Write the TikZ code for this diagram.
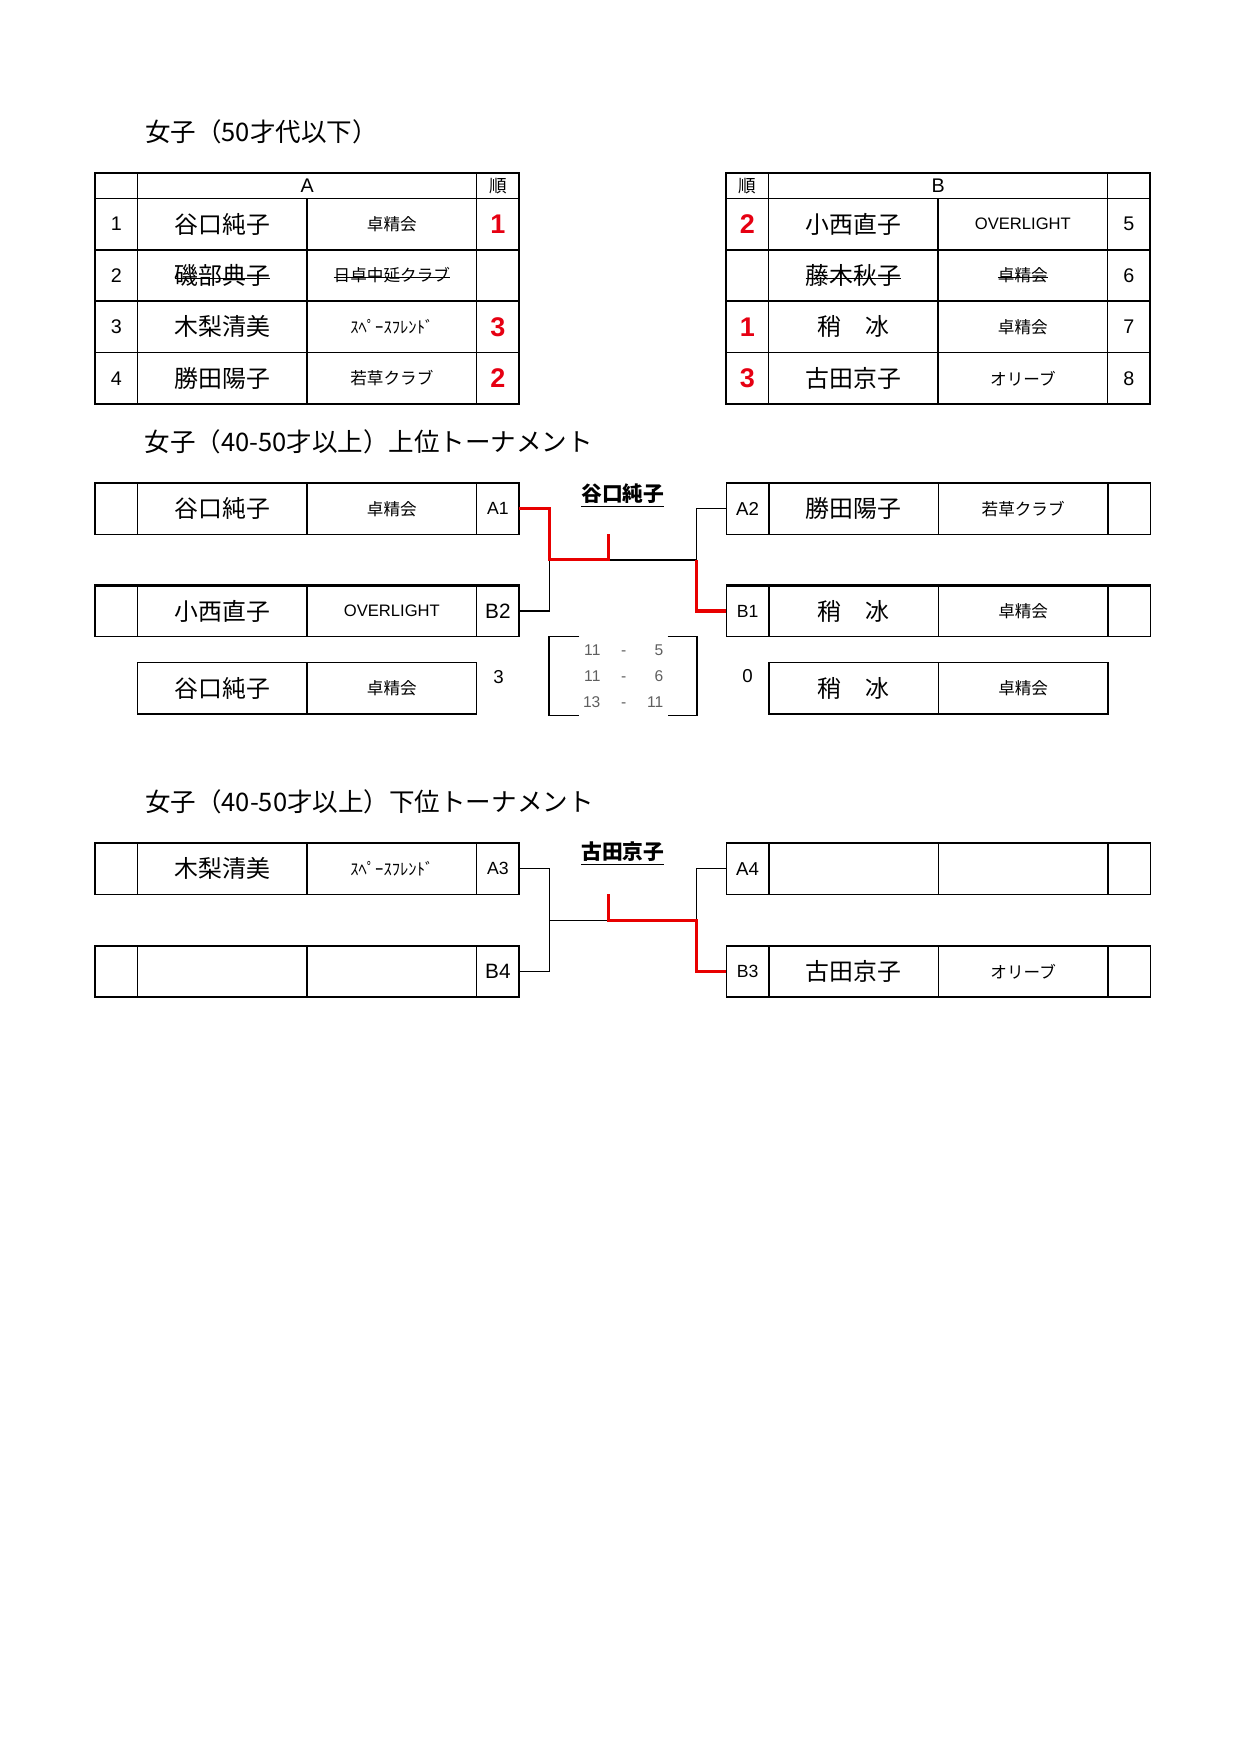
\documentclass[tikz,border=0pt]{standalone}
\usepackage{fontspec}
\setmainfont{Liberation Sans}
\newfontfamily\jp{Noto Sans CJK JP}
\usetikzlibrary{positioning,calc}
\definecolor{RankRed}{RGB}{230,0,18}
\definecolor{WinRed}{RGB}{232,0,0}
\definecolor{ScoreGray}{RGB}{95,95,95}
\newcommand{\struck}[1]{\setbox0=\hbox{#1}\rlap{\rule[0.22em]{\wd0}{0.6pt}}\box0}
\tikzset{
  cell/.style={draw,line width=0.75pt,inner sep=0pt,outer sep=0pt,
    minimum height=0.87cm},
  headcell/.style={cell,minimum height=0.43cm,font=\fontsize{9.5}{10}\selectfont},
  numcell/.style={cell,minimum width=0.72cm,font=\fontsize{9.5}{10}\selectfont},
  rankcell/.style={cell,minimum width=0.72cm,text=RankRed,
    font=\fontsize{13}{13}\selectfont\bfseries},
  slotcell/.style={cell,minimum width=0.72cm,font=\fontsize{8.5}{10}\selectfont},
  namecell/.style={cell,minimum width=2.87cm,font=\jp\fontsize{11.5}{12}\selectfont},
  clubcell/.style={cell,minimum width=2.87cm,font=\jp\fontsize{8}{10}\selectfont},
  engclub/.style={cell,minimum width=2.87cm,font=\fontsize{8}{10}\selectfont},
  outline/.style={line width=1.2pt},
  title/.style={anchor=west,inner sep=0pt,font=\jp\fontsize{12.3}{14}\selectfont},
  winner/.style={inner sep=0pt,font=\jp\bfseries\fontsize{10}{12}\selectfont},
  result/.style={inner sep=0pt,font=\fontsize{9}{10}\selectfont},
  scores/.style={minimum width=2.49cm,minimum height=1.31cm,inner sep=0pt,
    text=ScoreGray,font=\fontsize{7.5}{12.5}\selectfont},
  scoreframe/.style={line width=0.75pt},
  bracket/.style={line width=0.65pt},
  winline/.style={line width=1.5pt,draw=WinRed}
}
\begin{document}
\begin{tikzpicture}
  \useasboundingbox (0,0) rectangle (21,-29.7);
  % league tables
  \node[title] (t1) at (2.45,-2.235) {女子（50才代以下）};
  \node[headcell,minimum width=0.72cm,anchor=north west] (ah0) at (1.61,-2.93) {};
  \node[headcell,minimum width=5.74cm,right=0pt of ah0] (ahA) {A};
  \node[headcell,minimum width=0.72cm,right=0pt of ahA,font=\jp\fontsize{8.5}{10}\selectfont] (ahR) {順};
  \node[numcell,below=0pt of ah0] (a1no) {1};
  \node[namecell,right=0pt of a1no] (a1nm) {谷口純子};
  \node[clubcell,right=0pt of a1nm] (a1cl) {卓精会};
  \node[rankcell,right=0pt of a1cl] (a1rk) {1};
  \node[numcell,below=0pt of a1no] (a2no) {2};
  \node[namecell,right=0pt of a2no] (a2nm) {\struck{磯部典子}};
  \node[clubcell,right=0pt of a2nm] (a2cl) {\struck{日卓中延クラブ}};
  \node[rankcell,right=0pt of a2cl] (a2rk) {};
  \node[numcell,below=0pt of a2no] (a3no) {3};
  \node[namecell,right=0pt of a3no] (a3nm) {木梨清美};
  \node[clubcell,right=0pt of a3nm] (a3cl) {ｽﾍﾟｰｽﾌﾚﾝﾄﾞ};
  \node[rankcell,right=0pt of a3cl] (a3rk) {3};
  \node[numcell,below=0pt of a3no] (a4no) {4};
  \node[namecell,right=0pt of a4no] (a4nm) {勝田陽子};
  \node[clubcell,right=0pt of a4nm] (a4cl) {若草クラブ};
  \node[rankcell,right=0pt of a4cl] (a4rk) {2};
  \draw[outline] (ah0.north west) rectangle (a4rk.south east);

  \node[headcell,minimum width=0.72cm,anchor=north west,font=\jp\fontsize{8.5}{10}\selectfont] (bhR) at (12.295,-2.93) {順};
  \node[headcell,minimum width=5.74cm,right=0pt of bhR] (bhB) {B};
  \node[headcell,minimum width=0.72cm,right=0pt of bhB] (bh0) {};
  \node[rankcell,below=0pt of bhR] (b1rk) {2};
  \node[namecell,right=0pt of b1rk] (b1nm) {小西直子};
  \node[engclub,right=0pt of b1nm] (b1cl) {OVERLIGHT};
  \node[numcell,right=0pt of b1cl] (b1no) {5};
  \node[rankcell,below=0pt of b1rk] (b2rk) {};
  \node[namecell,right=0pt of b2rk] (b2nm) {\struck{藤木秋子}};
  \node[clubcell,right=0pt of b2nm] (b2cl) {\struck{卓精会}};
  \node[numcell,right=0pt of b2cl] (b2no) {6};
  \node[rankcell,below=0pt of b2rk] (b3rk) {1};
  \node[namecell,right=0pt of b3rk] (b3nm) {稍　冰};
  \node[clubcell,right=0pt of b3nm] (b3cl) {卓精会};
  \node[numcell,right=0pt of b3cl] (b3no) {7};
  \node[rankcell,below=0pt of b3rk] (b4rk) {3};
  \node[namecell,right=0pt of b4rk] (b4nm) {古田京子};
  \node[clubcell,right=0pt of b4nm] (b4cl) {オリーブ};
  \node[numcell,right=0pt of b4cl] (b4no) {8};
  \draw[outline] (bhR.north west) rectangle (b4no.south east);

  % upper tournament
  \node[title] (t2) at (2.44,-7.485) {女子（40-50才以上）上位トーナメント};
  \node[numcell,anchor=north west] (ua1e) at (1.61,-8.18) {};
  \node[namecell,right=0pt of ua1e] (ua1nm) {谷口純子};
  \node[clubcell,right=0pt of ua1nm] (ua1cl) {卓精会};
  \node[slotcell,right=0pt of ua1cl] (ua1lb) {A1};
  \node[numcell,below=0.86cm of ua1e] (ub2e) {};
  \node[namecell,right=0pt of ub2e] (ub2nm) {小西直子};
  \node[engclub,right=0pt of ub2nm] (ub2cl) {OVERLIGHT};
  \node[slotcell,right=0pt of ub2cl,font=\fontsize{10}{10}\selectfont] (ub2lb) {B2};
  \draw[outline] (ub2e.north west) -- (ub2lb.north east);
  \node[namecell,below=0.44cm of ub2nm] (ufnmL) {谷口純子};
  \node[clubcell,right=0pt of ufnmL] (ufclL) {卓精会};

  \node[slotcell,right=3.51cm of ua1lb,font=\fontsize{9}{10}\selectfont] (ua2lb) {A2};
  \node[namecell,right=0pt of ua2lb] (ua2nm) {勝田陽子};
  \node[clubcell,right=0pt of ua2nm] (ua2cl) {若草クラブ};
  \node[numcell,right=0pt of ua2cl] (ua2e) {};
  \node[slotcell,right=3.51cm of ub2lb] (ub1lb) {B1};
  \node[namecell,right=0pt of ub1lb] (ub1nm) {稍　冰};
  \node[clubcell,right=0pt of ub1nm] (ub1cl) {卓精会};
  \node[numcell,right=0pt of ub1cl] (ub1e) {};
  \draw[outline] (ub1lb.north west) -- (ub1e.north east);
  \node[namecell,below=0.44cm of ub1nm] (ufnmR) {稍　冰};
  \node[clubcell,right=0pt of ufnmR] (ufclR) {卓精会};

  \coordinate (uL) at ($(ua1lb.east)!0.5!(ub2lb.east)+(0.51,0)$);
  \coordinate (uR) at ($(ua2lb.west)!0.5!(ub1lb.west)+(-0.51,0)$);
  \coordinate (uW) at ($(uL)+(1.0,0)$);
  \draw[bracket] (ub2lb.east) -| (uL);
  \draw[bracket] (uW) -- (uR);
  \draw[bracket] (ua2lb.west) -| (uR);
  \draw[winline] (ua1lb.east) -| (uL) -- (uW) -- (uW |- ua1lb.south);
  \draw[winline] (ub1lb.west) -| (uR);
  \node[winner] (uwin) at ($(ua1lb.east)!0.5!(ua2lb.west)+(0,0.22)$) {\underline{谷口純子}};

  \node[scores,anchor=north west] (uscore) at (uL |- ub2lb.south)
    {\begin{tabular}{@{}r@{\hspace{10pt}}c@{\hspace{10pt}}r@{}}11&-&5\\11&-&6\\13&-&11\end{tabular}};
  \draw[scoreframe] ($(uscore.north west)+(0.51,0)$) -- (uscore.north west)
    -- (uscore.south west) -- ($(uscore.south west)+(0.51,0)$);
  \draw[scoreframe] ($(uscore.north east)+(-0.5,0)$) -- (uscore.north east)
    -- (uscore.south east) -- ($(uscore.south east)+(-0.5,0)$);
  \node[result] (uresL) at ($(ufclL.east)+(0.37,0.19)$) {3};
  \node[result] (uresR) at ($(ufnmR.west)+(-0.36,0.2)$) {0};

  % lower tournament
  \node[title] (t3) at (2.45,-13.58) {女子（40-50才以上）下位トーナメント};
  \node[numcell,anchor=north west] (la3e) at (1.61,-14.276) {};
  \node[namecell,right=0pt of la3e] (la3nm) {木梨清美};
  \node[clubcell,right=0pt of la3nm] (la3cl) {ｽﾍﾟｰｽﾌﾚﾝﾄﾞ};
  \node[slotcell,right=0pt of la3cl] (la3lb) {A3};
  \node[numcell,below=0.87cm of la3e] (lb4e) {};
  \node[namecell,right=0pt of lb4e] (lb4nm) {};
  \node[clubcell,right=0pt of lb4nm] (lb4cl) {};
  \node[slotcell,right=0pt of lb4cl,font=\fontsize{10}{10}\selectfont] (lb4lb) {B4};

  \node[slotcell,right=3.51cm of la3lb,font=\fontsize{9}{10}\selectfont] (la4lb) {A4};
  \node[namecell,right=0pt of la4lb] (la4nm) {};
  \node[clubcell,right=0pt of la4nm] (la4cl) {};
  \node[numcell,right=0pt of la4cl] (la4e) {};
  \node[slotcell,right=3.51cm of lb4lb] (lb3lb) {B3};
  \node[namecell,right=0pt of lb3lb] (lb3nm) {古田京子};
  \node[clubcell,right=0pt of lb3nm] (lb3cl) {オリーブ};
  \node[numcell,right=0pt of lb3cl] (lb3e) {};

  \coordinate (lL) at ($(la3lb.east)!0.5!(lb4lb.east)+(0.51,0)$);
  \coordinate (lR) at ($(la4lb.west)!0.5!(lb3lb.west)+(-0.51,0)$);
  \coordinate (lW) at ($(lL)+(1.0,0)$);
  \draw[bracket] (la3lb.east) -| (lL);
  \draw[bracket] (lb4lb.east) -| (lL);
  \draw[bracket] (lL) -- (lW);
  \draw[bracket] (la4lb.west) -| (lR);
  \draw[winline] (lb3lb.west) -| (lR) -- (lW) -- (lW |- la3lb.south);
  \node[winner] (lwin) at ($(la3lb.east)!0.5!(la4lb.west)+(0,0.26)$) {\underline{古田京子}};
\end{tikzpicture}
\end{document}
